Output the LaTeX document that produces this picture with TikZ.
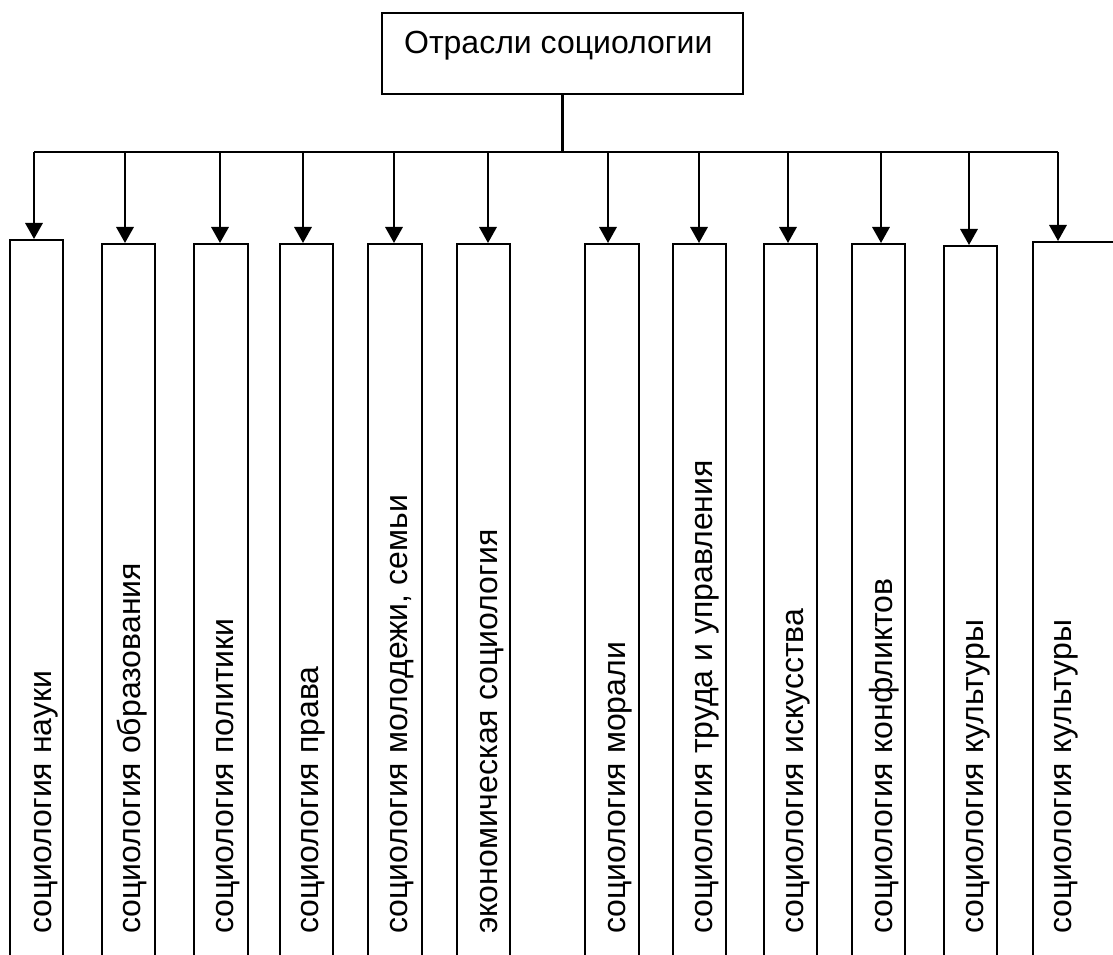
\documentclass[tikz,border=0pt]{standalone}
\usepackage{fontspec}
\setmainfont{Liberation Sans}
\usepackage{tikz}
\usetikzlibrary{positioning,calc,arrows.meta}

\tikzset{
  branch/.style={draw,line width=1.7pt,minimum width=40pt,minimum height=580pt,inner sep=0pt,anchor=north},
  lbl/.style={rotate=90,anchor=base west,inner sep=0pt,font=\fontsize{24}{28}\selectfont},
  arr/.style={-{Triangle[length=12pt,width=13pt]},line width=1.7pt}
}

\begin{document}
\begin{tikzpicture}[x=0.75pt,y=-0.75pt,line width=1.7pt]
\useasboundingbox (0,0) rectangle (1113,955);
\node[draw,line width=1.7pt,minimum width=271pt,minimum height=61pt,inner sep=0pt] (root) at (562.5,53.5) {};
\node[anchor=base west,inner sep=0pt,font=\fontsize{24}{28}\selectfont] (rootlbl) at (403,54) {Отрасли социологии};
% bus
\coordinate (c1) at (34,152);
\coordinate (c2) at (125,152);
\coordinate (c3) at (220,152);
\coordinate (c4) at (303,152);
\coordinate (c5) at (394,152);
\coordinate (c6) at (488,152);
\coordinate (c7) at (608,152);
\coordinate (c8) at (699,152);
\coordinate (c9) at (788,152);
\coordinate (c10) at (881,152);
\coordinate (c11) at (969,152);
\coordinate (c12) at (1058,152);
\draw[line width=1.7pt] (root.south) -- (root.south |- c1);
\draw[line width=1.7pt] (c1) -- (c12);
% branches
\node[branch] (b1) at (36.5,239) {};
\node[branch] (b2) at (128.5,243) {};
\node[branch] (b3) at (221,243) {};
\node[branch] (b4) at (306.5,243) {};
\node[branch] (b5) at (395,243) {};
\node[branch] (b6) at (483.5,243) {};
\node[branch] (b7) at (612,243) {};
\node[branch] (b8) at (699.5,243) {};
\node[branch] (b9) at (790.5,243) {};
\node[branch] (b10) at (878.5,243) {};
\node[branch] (b11) at (970.5,245) {};
\node[branch,anchor=north west,minimum width=70pt] (b12) at (1032,241) {};
\node[lbl] (t1) at (51,935) {социология науки};
\node[lbl] (t2) at (140,935) {социология образования};
\node[lbl] (t3) at (233,935) {социология политики};
\node[lbl] (t4) at (318,935) {социология права};
\node[lbl] (t5) at (407,935) {социология молодежи, семьи};
\node[lbl] (t6) at (497,935) {экономическая социология};
\node[lbl] (t7) at (625,935) {социология морали};
\node[lbl] (t8) at (712,935) {социология труда и управления};
\node[lbl] (t9) at (803,935) {социология искусства};
\node[lbl] (t10) at (892,935) {социология конфликтов};
\node[lbl] (t11) at (983,935) {социология культуры};
\node[lbl] (t12) at (1071,935) {социология культуры};
\draw[arr] (c1) -- (c1 |- b1.north);
\draw[arr] (c2) -- (c2 |- b2.north);
\draw[arr] (c3) -- (c3 |- b3.north);
\draw[arr] (c4) -- (c4 |- b4.north);
\draw[arr] (c5) -- (c5 |- b5.north);
\draw[arr] (c6) -- (c6 |- b6.north);
\draw[arr] (c7) -- (c7 |- b7.north);
\draw[arr] (c8) -- (c8 |- b8.north);
\draw[arr] (c9) -- (c9 |- b9.north);
\draw[arr] (c10) -- (c10 |- b10.north);
\draw[arr] (c11) -- (c11 |- b11.north);
\draw[arr] (c12) -- (c12 |- b12.north);
\end{tikzpicture}
\end{document}
